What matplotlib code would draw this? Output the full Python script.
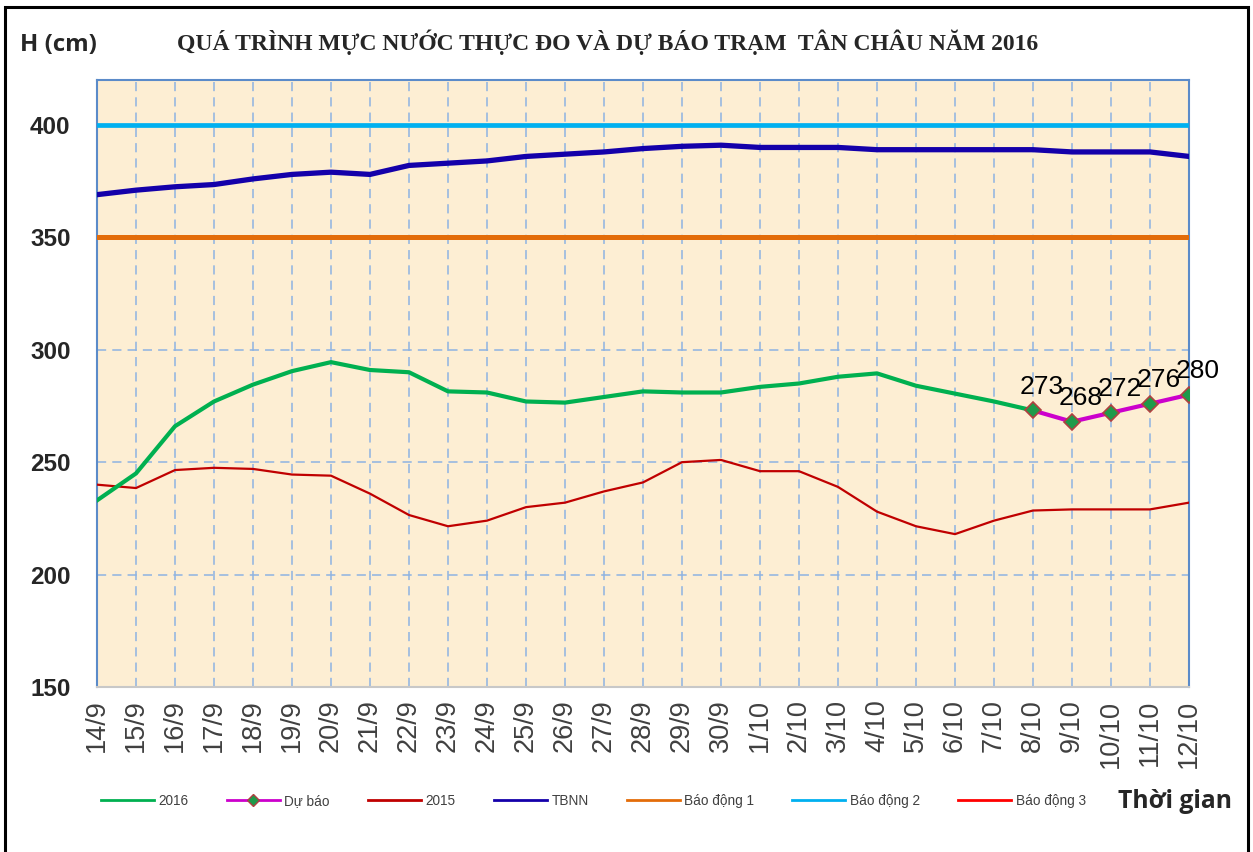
import matplotlib
matplotlib.use("Agg")
import matplotlib.pyplot as plt
from matplotlib.lines import Line2D
from matplotlib.patches import Rectangle

# %% Data

dates = ["14/9", "15/9", "16/9", "17/9", "18/9", "19/9", "20/9", "21/9", "22/9",
         "23/9", "24/9", "25/9", "26/9", "27/9", "28/9", "29/9", "30/9",
         "1/10", "2/10", "3/10", "4/10", "5/10", "6/10", "7/10", "8/10",
         "9/10", "10/10", "11/10", "12/10"]

h2016 = [233, 245, 266, 277, 284.5, 290.5, 294.5, 291, 290, 281.5, 281, 277, 276.5,
         279, 281.5, 281, 281, 283.5, 285, 288, 289.5, 284, 280.5, 277, 273]

forecast_dates = ["8/10", "9/10", "10/10", "11/10", "12/10"]
forecast = [273, 268, 272, 276, 280]

h2015 = [240, 238.5, 246.5, 247.5, 247, 244.5, 244, 236, 226.5, 221.5, 224, 230, 232,
         237, 241, 250, 251, 246, 246, 239, 228, 221.5, 218, 224, 228.5,
         229, 229, 229, 232]

tbnn = [369, 371, 372.5, 373.5, 376, 378, 379, 378, 382, 383, 384, 386, 387,
        388, 389.5, 390.5, 391, 390, 390, 390, 389, 389, 389, 389, 389,
        388, 388, 388, 386]

alarm1 = 350
alarm2 = 400
alarm3 = 450

# %% Plot

fig = plt.figure(figsize=(12.53, 8.52), dpi=100)
ax = fig.add_axes([97 / 1253, 1 - 687 / 852, (1189 - 97) / 1253, (687 - 80) / 852])
ax.set_facecolor("#FDEED3")

x = list(range(len(dates)))
xf = [dates.index(d) for d in forecast_dates]

ax.axhline(alarm3, color="#FF0000", lw=3.3, zorder=3)
ax.axhline(alarm2, color="#00B0F0", lw=3.4, zorder=3)
ax.axhline(alarm1, color="#E36C09", lw=3.6, zorder=3)
ax.plot(x, tbnn, color="#1400AA", lw=3.8, solid_joinstyle="round", zorder=4)
ax.plot(x, h2015, color="#C00000", lw=1.6, solid_joinstyle="round", zorder=4)
ax.plot(x[:len(h2016)], h2016, color="#00B050", lw=3.0, solid_joinstyle="round", zorder=5)
ax.plot(xf, forecast, color="#CC00CC", lw=3.0, marker="D", markersize=8,
        markerfacecolor="#1E9A4A", markeredgecolor="#B04040", markeredgewidth=1.2,
        zorder=6)

for xi, v in zip(xf, forecast):
    ax.annotate(str(v), (xi, v), xytext=(6, 17), textcoords="offset points",
                ha="center", va="center", fontsize=19, color="black",
                family="Liberation Sans", zorder=7, annotation_clip=False)

ax.set_xlim(0, len(dates) - 1)
ax.set_ylim(150, 420)
ax.set_yticks([150, 200, 250, 300, 350, 400])
ax.set_xticks(x)
ax.set_xticklabels(dates, rotation=90, fontsize=19.5, color="#404040",
                   family="Liberation Sans")
for lab in ax.get_yticklabels():
    lab.set_fontsize(17.5)
    lab.set_fontweight("bold")
    lab.set_color("#262626")
    lab.set_family("Liberation Sans")
ax.tick_params(axis="y", length=0, pad=19)
ax.tick_params(axis="x", length=0, pad=9)

ax.grid(True, color="#8DB3E2", lw=1.1, linestyle=(0, (6, 4)), zorder=1)
ax.set_axisbelow(True)
for side in ["left", "right", "top"]:
    ax.spines[side].set_color("#5B8BC9")
    ax.spines[side].set_linewidth(1.5)
ax.spines["bottom"].set_color("#C8C8C8")
ax.spines["bottom"].set_linewidth(1.5)

# titles
fig.text(608 / 1253, 1 - 42 / 852,
         "QUÁ TRÌNH MỰC NƯỚC THỰC ĐO VÀ DỰ BÁO TRẠM  TÂN CHÂU NĂM 2016",
         ha="center", va="center", fontsize=17, fontweight="bold",
         family="Liberation Serif", color="#262626")
fig.text(20 / 1253, 1 - 45 / 852, "H (cm)", ha="left", va="center",
         fontsize=17.3, fontweight="bold", family="Open Sans", color="#262626")
fig.text(1118 / 1253, 1 - 802 / 852, "Thời gian", ha="left", va="center",
         fontsize=17.8, fontweight="bold", family="Open Sans", color="#262626")

# legend
handles = [
    Line2D([], [], color="#00B050", lw=2),
    Line2D([], [], color="#CC00CC", lw=2, marker="D", markersize=6,
           markerfacecolor="#1E9A4A", markeredgecolor="#B04040"),
    Line2D([], [], color="#C00000", lw=2),
    Line2D([], [], color="#1400AA", lw=2),
    Line2D([], [], color="#E36C09", lw=2),
    Line2D([], [], color="#00B0F0", lw=2),
    Line2D([], [], color="#FF0000", lw=2),
]
labels = ["2016", "Dự báo", "2015", "TBNN", "Báo động 1", "Báo động 2", "Báo động 3"]
fig.legend(handles, labels, loc="center left", bbox_to_anchor=(94 / 1253, 1 - 801 / 852),
           ncol=7, frameon=False, handlelength=3.9, handletextpad=0.35,
           columnspacing=2.78, borderpad=0, labelcolor="#404040",
           prop={"family": "Liberation Sans", "size": 9.8})

# outer frame
fig.patches.append(Rectangle((5 / 1253, -0.01), (1248 - 5) / 1253, 1 - 7 / 852 + 0.01,
                             transform=fig.transFigure, fill=False,
                             edgecolor="black", lw=2.2))

plt.savefig("out.png", dpi=100)
